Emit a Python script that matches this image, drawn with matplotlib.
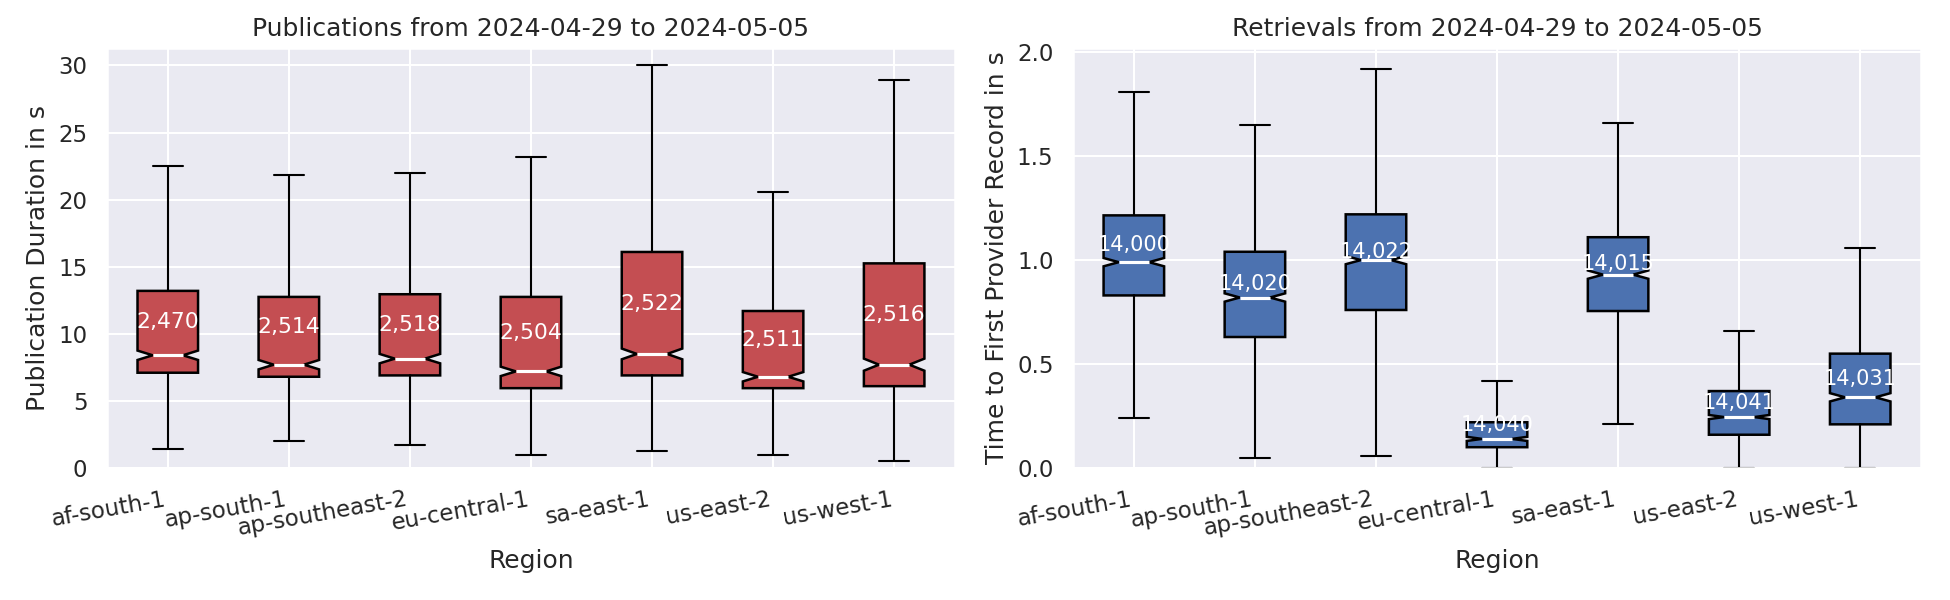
import matplotlib
matplotlib.use("Agg")
import matplotlib.pyplot as plt
import seaborn as sns

sns.set_theme(style="darkgrid")
plt.rcParams['font.family'] = ['DejaVu Sans']

regions = ["af-south-1", "ap-south-1", "ap-southeast-2", "eu-central-1", "sa-east-1", "us-east-2", "us-west-1"]

pub_lo = [1.4, 2.0, 1.7, 0.95, 1.25, 0.95, 0.5]
pub_q1 = [7.1, 6.8, 6.9, 5.95, 6.9, 5.95, 6.1]
pub_med = [8.4, 7.7, 8.15, 7.2, 8.5, 6.8, 7.7]
pub_q3 = [13.2, 12.75, 12.95, 12.75, 16.1, 11.7, 15.25]
pub_hi = [22.5, 21.8, 22.0, 23.2, 30.0, 20.6, 28.9]
pub_ci = [0.35, 0.35, 0.35, 0.35, 0.4, 0.35, 0.45]
pub_n = [2470, 2514, 2518, 2504, 2522, 2511, 2516]

ret_lo = [0.24, 0.05, 0.06, 0.0, 0.21, 0.0, 0.0]
ret_q1 = [0.83, 0.63, 0.76, 0.10, 0.755, 0.16, 0.21]
ret_med = [0.99, 0.82, 1.0, 0.14, 0.93, 0.245, 0.34]
ret_q3 = [1.215, 1.04, 1.22, 0.22, 1.11, 0.37, 0.55]
ret_hi = [1.81, 1.65, 1.92, 0.42, 1.66, 0.66, 1.06]
ret_ci = [0.02, 0.02, 0.02, 0.01, 0.02, 0.01, 0.02]
ret_n = [14000, 14020, 14022, 14040, 14015, 14041, 14031]


def draw(ax, lo, q1, med, q3, hi, ci, n, color, title, ylabel, ylim, fs):
    stats = []
    for i, r in enumerate(regions):
        stats.append(dict(label=r, whislo=lo[i], q1=q1[i], med=med[i], q3=q3[i],
                          whishi=hi[i], cilo=med[i] - ci[i], cihi=med[i] + ci[i], fliers=[]))
    ax.bxp(stats, shownotches=True, patch_artist=True, showfliers=False, widths=0.5,
           boxprops=dict(facecolor=color, edgecolor='black', linewidth=1.2),
           medianprops=dict(color='white', linewidth=1.5),
           whiskerprops=dict(color='black'), capprops=dict(color='black'))
    for i in range(len(regions)):
        ax.text(i + 1, (q1[i] + q3[i]) / 2, f"{n[i]:,}", ha='center', va='bottom',
                color='white', fontsize=fs)
    ax.set_title(title, fontsize=12)
    ax.set_xlabel("Region", fontsize=12)
    ax.set_ylabel(ylabel, fontsize=12)
    ax.set_ylim(*ylim)
    ax.set_xticks(range(1, len(regions) + 1))
    ax.set_xticklabels(regions, rotation=10, ha='right', fontsize=11)
    ax.tick_params(axis='y', labelsize=11)


fig, axes = plt.subplots(1, 2, figsize=(13, 4), dpi=150)
draw(axes[0], pub_lo, pub_q1, pub_med, pub_q3, pub_hi, pub_ci, pub_n, '#C44E52',
     "Publications from 2024-04-29 to 2024-05-05", "Publication Duration in s", (0, 31.3), 10.5)
draw(axes[1], ret_lo, ret_q1, ret_med, ret_q3, ret_hi, ret_ci, ret_n, '#4C72B0',
     "Retrievals from 2024-04-29 to 2024-05-05", "Time to First Provider Record in s", (0, 2.02), 10)
axes[0].set_yticks([0, 5, 10, 15, 20, 25, 30])
axes[1].set_yticks([0, 0.5, 1.0, 1.5, 2.0])
fig.subplots_adjust(left=0.055, right=0.985, bottom=0.22, top=0.92, wspace=0.14)
fig.savefig("out.png")
